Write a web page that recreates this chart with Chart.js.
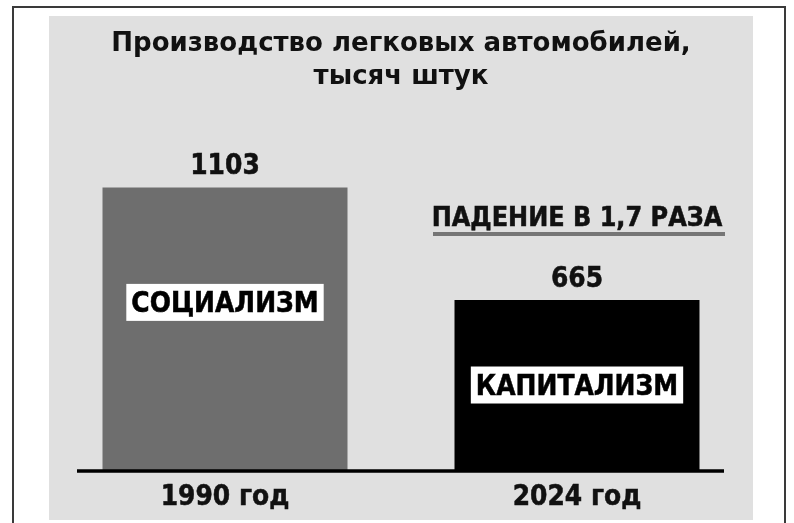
<!DOCTYPE html>
<html>
<head>
<meta charset="utf-8">
<script src="https://cdn.jsdelivr.net/npm/chart.js@4.4.1/dist/chart.umd.min.js"></script>
<style>
    html, body { margin:0; padding:0; background:#fff; }
    #wrap { width:794px; height:523px; }
</style>
</head>
<body>
<div id="wrap"><canvas id="graficoAutos" width="794" height="523"></canvas></div>
<script>
const anios = ['1990 год', '2024 год'];
const produccion = [1103, 665];
const etiquetasValor = ['1103', '665'];
const sistemas = ['СОЦИАЛИЗМ', 'КАПИТАЛИЗМ'];
const titulo = ['Производство легковых автомобилей,', 'тысяч штук'];
const nota = 'ПАДЕНИЕ В 1,7 РАЗА';

const FUENTE = '"DejaVu Sans", Verdana, sans-serif';

// texto negrita un poco mas alto y grueso
function textoGrueso(c, texto, x, y, color){
    c.save();
    c.translate(x, y);
    c.scale(1, 1.1);
    c.fillStyle = color;
    c.strokeStyle = color;
    c.lineWidth = 0.5;
    c.fillText(texto, 0, 0);
    c.strokeText(texto, 0, 0);
    c.restore();
}

// marco blanco con borde y panel gris
const fondoPlugin = {
    id: 'fondo',
    beforeDraw(chart){
        const c = chart.ctx;
        const a = chart.chartArea;
        c.save();
        c.fillStyle = '#ffffff';
        c.fillRect(0, 0, chart.width, chart.height);
        c.strokeStyle = '#3a3a3a';
        c.lineWidth = 2;
        c.strokeRect(13, 7, chart.width - 22, chart.height + 10);
        c.fillStyle = '#e0e0e0';
        c.fillRect(a.left, 16, a.right - a.left, chart.height - 19);
        c.restore();
    }
};

const textosPlugin = {
    id: 'textos',
    afterDatasetsDraw(chart){
        const c = chart.ctx;
        const a = chart.chartArea;
        const meta = chart.getDatasetMeta(0);
        const desplaz = [115, 85];
        c.save();

        // linea base
        c.strokeStyle = '#000';
        c.lineWidth = 3.5;
        c.beginPath();
        c.moveTo(a.left + 28, a.bottom);
        c.lineTo(a.right - 29, a.bottom);
        c.stroke();

        c.textAlign = 'center';
        c.textBaseline = 'alphabetic';
        c.font = 'bold 25px ' + FUENTE;
        meta.data.forEach(function(bar, i){
            // valor sobre la barra
            textoGrueso(c, etiquetasValor[i], bar.x, bar.y - 13, '#111');

            // recuadro blanco con el sistema
            const w = c.measureText(sistemas[i]).width + 10;
            const h = 37;
            const cy = bar.y + desplaz[i];
            c.fillStyle = '#fff';
            c.fillRect(bar.x - w / 2, cy - h / 2, w, h);
            textoGrueso(c, sistemas[i], bar.x, cy + 10, '#000');

            // año bajo el eje
            textoGrueso(c, anios[i], chart.scales.x.getPixelForValue(i), a.bottom + 34, '#111');
        });

        // nota de caida sobre la segunda barra
        const b2 = meta.data[1];
        c.font = 'bold 24px ' + FUENTE;
        textoGrueso(c, nota, b2.x, b2.y - 74, '#111');
        c.strokeStyle = '#767676';
        c.lineWidth = 4;
        c.beginPath();
        c.moveTo(b2.x - 144, b2.y - 66);
        c.lineTo(b2.x + 148, b2.y - 66);
        c.stroke();

        c.restore();
    }
};

function graficoProduccion(){
    const ctx = document.getElementById('graficoAutos');

    const datachart = {
        labels: anios,
        datasets: [{
            data: produccion,
            backgroundColor: ['#6e6e6e', '#000000'],
            borderWidth: 0,
            barPercentage: 0.696,
            categoryPercentage: 1
        }]
    };

    const options = {
        responsive: false,
        animation: false,
        layout: {
            padding: { left: 49, right: 41, top: 16, bottom: 52 }
        },
        scales: {
            x: { display: false },
            y: { display: false, min: 0, max: 1425 }
        },
        plugins: {
            legend: { display: false },
            tooltip: { enabled: false },
            title: {
                display: true,
                text: titulo,
                color: '#111',
                font: { family: FUENTE, size: 26, weight: 'bold', lineHeight: 1.3 },
                padding: { top: 11, bottom: 10 }
            }
        }
    };

    new Chart(ctx, {
        type: 'bar',
        data: datachart,
        options: options,
        plugins: [fondoPlugin, textosPlugin]
    });
}

graficoProduccion();
</script>
</body>
</html>
